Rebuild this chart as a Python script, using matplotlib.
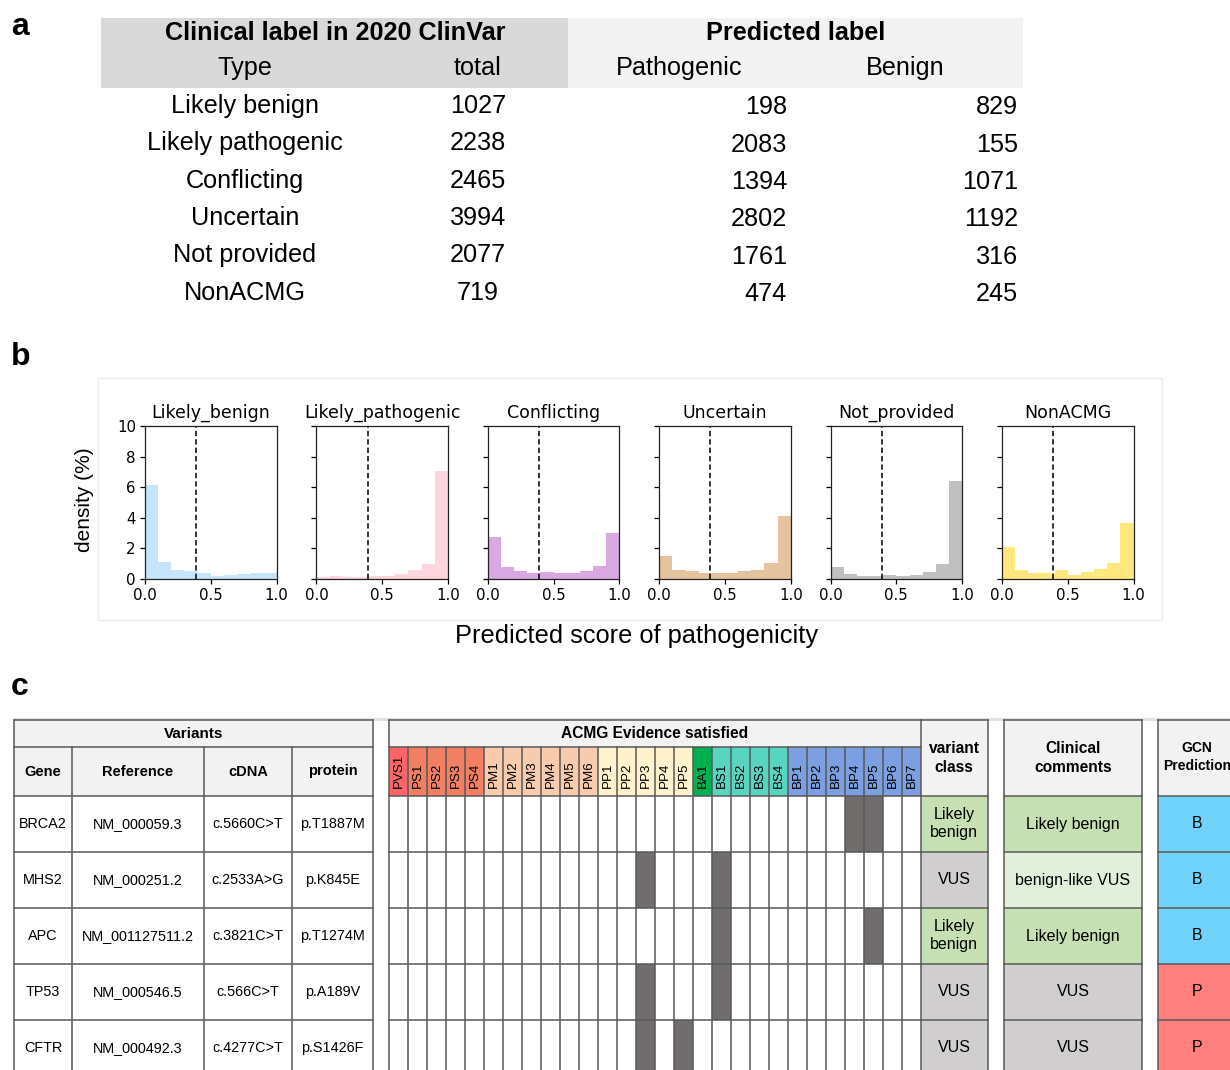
import numpy as np
import matplotlib
matplotlib.use('Agg')
import matplotlib.pyplot as plt
from matplotlib.patches import Rectangle

W, H = 1230, 1070
HEL = ['Liberation Sans', 'DejaVu Sans']

# ---------------- Panel a data ----------------
clin_types = ['Likely benign', 'Likely pathogenic', 'Conflicting', 'Uncertain', 'Not provided', 'NonACMG']
clin_totals = [1027, 2238, 2465, 3994, 2077, 719]
pred_pathogenic = [198, 2083, 1394, 2802, 1761, 474]
pred_benign = [829, 155, 1071, 1192, 316, 245]

# ---------------- Panel b data ----------------
hist_titles = ['Likely_benign', 'Likely_pathogenic', 'Conflicting', 'Uncertain', 'Not_provided', 'NonACMG']
bin_edges = [0.0, 0.1, 0.2, 0.3, 0.4, 0.5, 0.6, 0.7, 0.8, 0.9, 1.0]
dens_likely_benign = [6.15, 1.08, 0.58, 0.50, 0.37, 0.22, 0.24, 0.30, 0.39, 0.41]
dens_likely_pathogenic = [0.15, 0.22, 0.13, 0.13, 0.20, 0.22, 0.35, 0.57, 0.96, 7.04]
dens_conflicting = [2.72, 0.80, 0.54, 0.37, 0.43, 0.39, 0.39, 0.54, 0.87, 3.02]
dens_uncertain = [1.52, 0.59, 0.52, 0.41, 0.41, 0.41, 0.50, 0.61, 1.04, 4.09]
dens_not_provided = [0.80, 0.35, 0.22, 0.17, 0.26, 0.20, 0.28, 0.43, 0.96, 6.41]
dens_nonacmg = [2.11, 0.57, 0.41, 0.41, 0.61, 0.26, 0.48, 0.63, 1.04, 3.63]
hist_colors = ['#c4e5fa', '#ffd6dd', '#d9a7e2', '#e6c39f', '#c0c0c0', '#ffe97e']
threshold = 0.39
yticks_b = [0, 2, 4, 6, 8, 10]
xticks_b = [0.0, 0.5, 1.0]

# ---------------- Panel c data ----------------
var_genes = ['BRCA2', 'MHS2', 'APC', 'TP53', 'CFTR']
var_refs = ['NM_000059.3', 'NM_000251.2', 'NM_001127511.2', 'NM_000546.5', 'NM_000492.3']
var_cdna = ['c.5660C>T', 'c.2533A>G', 'c.3821C>T', 'c.566C>T', 'c.4277C>T']
var_protein = ['p.T1887M', 'p.K845E', 'p.T1274M', 'p.A189V', 'p.S1426F']
acmg_codes = ['PVS1', 'PS1', 'PS2', 'PS3', 'PS4', 'PM1', 'PM2', 'PM3', 'PM4', 'PM5', 'PM6',
              'PP1', 'PP2', 'PP3', 'PP4', 'PP5', 'BA1', 'BS1', 'BS2', 'BS3', 'BS4',
              'BP1', 'BP2', 'BP3', 'BP4', 'BP5', 'BP6', 'BP7']
acmg_satisfied = [['BP4', 'BP5'], ['PP3', 'BS1'], ['BS1', 'BP5'], ['PP3', 'BS1'], ['PP3', 'PP5']]
variant_class = ['Likely\nbenign', 'VUS', 'Likely\nbenign', 'VUS', 'VUS']
clinical_comments = ['Likely benign', 'benign-like VUS', 'Likely benign', 'VUS', 'VUS']
gcn_prediction = ['B', 'B', 'B', 'P', 'P']

code_colors = {'PVS': '#ff6566', 'PS': '#f27f61', 'PM': '#f8cbad', 'PP': '#fff2cc',
               'BA': '#00b050', 'BS': '#58d5c1', 'BP': '#7b9fe0'}
label_colors = {'Likely\nbenign': '#c6e0b4', 'Likely benign': '#c6e0b4', 'VUS': '#d0cece',
                'benign-like VUS': '#e2efda', 'B': '#6fd3fb', 'P': '#ff7f7f'}

fig = plt.figure(figsize=(W / 100, H / 100), dpi=100)
ov = fig.add_axes([0, 0, 1, 1])
ov.set_xlim(0, W)
ov.set_ylim(H, 0)
ov.axis('off')

# ---------------- panel labels ----------------
for lab, x, y in [('a', 11, 35), ('b', 11, 365), ('c', 11, 695)]:
    ov.text(x, y, lab, fontsize=23, fontweight='bold', family=HEL, va='baseline', ha='left')

# ---------------- Panel a ----------------
ov.add_patch(Rectangle((101, 18), 467, 70, facecolor='#d9d9d9', edgecolor='none'))
ov.add_patch(Rectangle((568, 18), 455, 70, facecolor='#f2f2f2', edgecolor='none'))
fs_a = 18.2
ov.text(335, 40.5, 'Clinical label in 2020 ClinVar', fontsize=fs_a, fontweight='bold', family=HEL,
        ha='center', va='baseline')
ov.text(795.5, 40.5, 'Predicted label', fontsize=fs_a, fontweight='bold', family=HEL,
        ha='center', va='baseline')
ov.text(245, 75, 'Type', fontsize=fs_a, family=HEL, ha='center', va='baseline')
ov.text(478, 75, 'total', fontsize=fs_a, family=HEL, ha='center', va='baseline')
ov.text(679.5, 75, 'Pathogenic', fontsize=fs_a, family=HEL, ha='center', va='baseline')
ov.text(905.5, 75, 'Benign', fontsize=fs_a, family=HEL, ha='center', va='baseline')
for i, (t, tot, p, b) in enumerate(zip(clin_types, clin_totals, pred_pathogenic, pred_benign)):
    yb = 113 + i * 37.3
    ov.text(245, yb, t, fontsize=fs_a, family=HEL, ha='center', va='baseline')
    ov.text(478, yb, str(tot), fontsize=fs_a, family=HEL, ha='center', va='baseline')
    ov.text(787, yb + 1.5, str(p), fontsize=fs_a, family=HEL, ha='right', va='baseline')
    ov.text(1018, yb + 1.5, str(b), fontsize=fs_a, family=HEL, ha='right', va='baseline')

# ---------------- Panel b ----------------
ov.add_patch(Rectangle((98, 378), 1064, 242, facecolor='none', edgecolor='#ebebeb', lw=1))
dens_all = [dens_likely_benign, dens_likely_pathogenic, dens_conflicting,
            dens_uncertain, dens_not_provided, dens_nonacmg]
ax_top, ax_bot, ax_w = 426, 579, 131.5
edges = np.array(bin_edges)
for i, (title, dens, col) in enumerate(zip(hist_titles, dens_all, hist_colors)):
    left = 145 + i * 171.4
    ax = fig.add_axes([left / W, 1 - ax_bot / H, ax_w / W, (ax_bot - ax_top) / H])
    ax.bar(edges[:-1], dens, width=np.diff(edges), align='edge', color=col, linewidth=0)
    ax.axvline(threshold, color='black', ls='--', lw=1.1, dashes=(3.5, 2))
    ax.set_xlim(0, 1)
    ax.set_ylim(0, 10)
    ax.set_xticks(xticks_b)
    ax.set_yticks(yticks_b)
    ax.tick_params(labelsize=10.8, length=3.5, width=0.9, pad=3)
    if i > 0:
        ax.set_yticklabels([])
    ax.set_title(title, fontsize=12.5, pad=6)
    for s in ax.spines.values():
        s.set_linewidth(0.9)
        s.set_color('#222222')
fig.text(85 / W, 1 - 500 / H, 'density (%)', rotation=90, fontsize=15, family=HEL,
         ha='center', va='center')
fig.text(637 / W, 1 - 643 / H, 'Predicted score of pathogenicity', fontsize=18.3, family=HEL,
         ha='center', va='baseline')

# ---------------- Panel c ----------------
lc = '#595959'
lw = 1.1
hdr = '#f2f2f2'
y0, y1, y2 = 720, 747, 796
rh = 56
nrows = len(var_genes)
ybot = y2 + rh * nrows
ov.plot([14, 1236], [719, 719], color='#e2e2e2', lw=2.2, zorder=0, solid_capstyle='butt')

def hline(xa, xb, y):
    ov.plot([xa, xb], [y, y], color=lc, lw=lw, zorder=5, solid_capstyle='projecting')

def vline(x, ya, yb):
    ov.plot([x, x], [ya, yb], color=lc, lw=lw, zorder=5, solid_capstyle='projecting')

# Variants table
vx = [14, 72, 204, 292, 373]
ov.add_patch(Rectangle((vx[0], y0), vx[-1] - vx[0], y2 - y0, facecolor=hdr, edgecolor='none'))
ov.text((vx[0] + vx[-1]) / 2, (y0 + y1) / 2, 'Variants', fontsize=11, fontweight='bold', family=HEL,
        ha='center', va='center')
for j, h in enumerate(['Gene', 'Reference', 'cDNA', 'protein']):
    ov.text((vx[j] + vx[j + 1]) / 2, (y1 + y2) / 2, h, fontsize=10.5, fontweight='bold', family=HEL,
            ha='center', va='center')
for r in range(nrows):
    yc = y2 + rh * r + rh / 2
    for j, val in enumerate([var_genes[r], var_refs[r], var_cdna[r], var_protein[r]]):
        ov.text((vx[j] + vx[j + 1]) / 2, yc, val, fontsize=10.4, family=HEL, ha='center', va='center')
for y in [y0, y1, y2] + [y2 + rh * r for r in range(1, nrows + 1)]:
    hline(vx[0], vx[-1], y)
vline(vx[0], y0, ybot)
vline(vx[-1], y0, ybot)
for x in vx[1:-1]:
    vline(x, y1, ybot)

# ACMG table
ax0, ax1 = 389, 920.5
cw = (ax1 - ax0) / len(acmg_codes)
ov.add_patch(Rectangle((ax0, y0), ax1 - ax0, y1 - y0, facecolor=hdr, edgecolor='none'))
ov.text((ax0 + ax1) / 2, (y0 + y1) / 2, 'ACMG Evidence satisfied', fontsize=11.2, fontweight='bold',
        family=HEL, ha='center', va='center')
for k, code in enumerate(acmg_codes):
    pre = code.rstrip('0123456789')
    xl = ax0 + k * cw
    ov.add_patch(Rectangle((xl, y1), cw, y2 - y1, facecolor=code_colors[pre], edgecolor='none'))
    ov.text(xl + cw / 2 + 0.5, y2 - 8.5, code, fontsize=9.6, family=HEL, rotation=90,
            ha='center', va='bottom')
for r, sat in enumerate(acmg_satisfied):
    for code in sat:
        k = acmg_codes.index(code)
        ov.add_patch(Rectangle((ax0 + k * cw, y2 + rh * r), cw, rh, facecolor='#716d6d',
                               edgecolor='none', zorder=2))
for y in [y0, y1, y2] + [y2 + rh * r for r in range(1, nrows + 1)]:
    hline(ax0, ax1, y)
vline(ax0, y0, ybot)
for k in range(1, len(acmg_codes)):
    vline(ax0 + k * cw, y1, ybot)

# variant class column
cx0, cx1 = ax1, 988
ov.add_patch(Rectangle((cx0, y0), cx1 - cx0, y2 - y0, facecolor=hdr, edgecolor='none'))
ov.text((cx0 + cx1) / 2, (y0 + y2) / 2, 'variant\nclass', fontsize=11.2, fontweight='bold', family=HEL,
        ha='center', va='center', linespacing=1.3)
for r, v in enumerate(variant_class):
    ov.add_patch(Rectangle((cx0, y2 + rh * r), cx1 - cx0, rh, facecolor=label_colors[v], edgecolor='none'))
    ov.text((cx0 + cx1) / 2, y2 + rh * r + rh / 2, v, fontsize=11.5, family=HEL, ha='center',
            va='center', linespacing=1.25)
for y in [y0, y2] + [y2 + rh * r for r in range(1, nrows + 1)]:
    hline(cx0, cx1, y)
vline(cx0, y0, ybot)
vline(cx1, y0, ybot)

# Clinical comments
kx0, kx1 = 1004, 1142
ov.add_patch(Rectangle((kx0, y0), kx1 - kx0, y2 - y0, facecolor=hdr, edgecolor='none'))
ov.text((kx0 + kx1) / 2, (y0 + y2) / 2, 'Clinical\ncomments', fontsize=11.2, fontweight='bold', family=HEL,
        ha='center', va='center', linespacing=1.3)
for r, v in enumerate(clinical_comments):
    ov.add_patch(Rectangle((kx0, y2 + rh * r), kx1 - kx0, rh, facecolor=label_colors[v], edgecolor='none'))
    ov.text((kx0 + kx1) / 2, y2 + rh * r + rh / 2, v, fontsize=11.5, family=HEL, ha='center', va='center')
for y in [y0, y2] + [y2 + rh * r for r in range(1, nrows + 1)]:
    hline(kx0, kx1, y)
vline(kx0, y0, ybot)
vline(kx1, y0, ybot)

# GCN prediction
gx0, gx1 = 1158, 1236
ov.add_patch(Rectangle((gx0, y0), gx1 - gx0, y2 - y0, facecolor=hdr, edgecolor='none'))
ov.text((gx0 + gx1) / 2, (y0 + y2) / 2 - 1, 'GCN\nPrediction', fontsize=10, fontweight='bold', family=HEL,
        ha='center', va='center', linespacing=1.45)
for r, v in enumerate(gcn_prediction):
    ov.add_patch(Rectangle((gx0, y2 + rh * r), gx1 - gx0, rh, facecolor=label_colors[v], edgecolor='none'))
    ov.text((gx0 + gx1) / 2, y2 + rh * r + rh / 2, v, fontsize=11.5, family=HEL, ha='center', va='center')
for y in [y0, y2] + [y2 + rh * r for r in range(1, nrows + 1)]:
    hline(gx0, gx1, y)
vline(gx0, y0, ybot)
vline(gx1, y0, ybot)

fig.savefig('out.png', dpi=100)
